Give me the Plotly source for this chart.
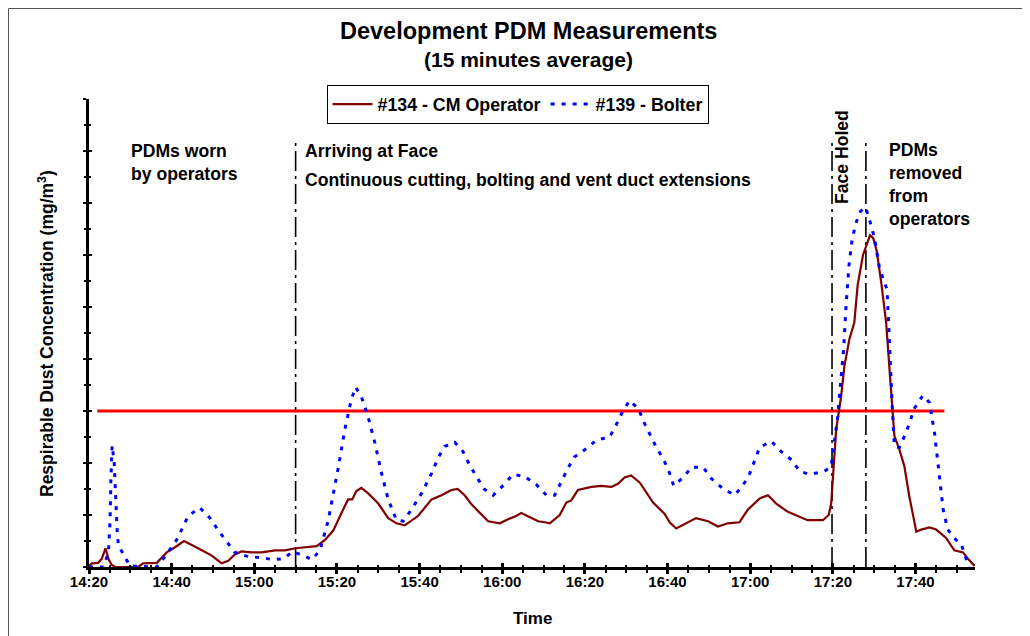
import numpy as np
import pandas as pd
import plotly.graph_objects as go

# ---------------- data (minutes after 14:20, mg/m3) ----------------
cm_minutes = [0, 0.7, 2.2, 3.1, 4.0, 4.8, 5.5, 6.4, 11.9, 13.1, 16.4, 18.8, 20.8, 23.0, 26.4,
              29.7, 32.1, 33.7, 35.3, 36.9, 39.3, 41.8, 45.0, 47.4, 50.0, 52.2, 55.1, 57.1,
              59.1, 61.1, 62.7, 63.7, 64.7, 65.9, 67.5, 70.0, 72.4, 74.4, 76.4, 79.6, 82.9,
              85.3, 87.7, 89.2, 90.9, 92.6, 94.6, 96.6, 99.4, 101.4, 103.4, 104.6, 106.6,
              108.7, 110.3, 111.5, 113.9, 115.5, 116.7, 118.3, 121.6, 124.0, 126.4, 128.0,
              129.6, 131.2, 133.3, 134.9, 136.5, 139.3, 140.5, 142.1, 144.1, 146.9, 149.8,
              152.2, 154.6, 157.4, 159.4, 162.3, 164.3, 166.3, 169.1, 172.7, 173.9, 177.6,
              179.0, 179.6, 180.8, 182.0, 182.8, 184.0, 185.2, 186.0, 187.3, 188.1, 189.0,
              189.8, 190.6, 191.7, 192.9, 193.9, 194.9, 196.1, 197.3, 198.5, 200.2, 201.4,
              203.4, 205.0, 207.4, 209.4, 211.5, 212.7, 214.3]
cm_values = [0.01, 0.035, 0.04, 0.08, 0.18, 0.07, 0.02, 0.0, 0.0, 0.035, 0.04, 0.14, 0.19, 0.25, 0.18,
             0.11, 0.035, 0.06, 0.12, 0.15, 0.14, 0.14, 0.16, 0.16, 0.18, 0.19, 0.20, 0.26,
             0.35, 0.52, 0.65, 0.65, 0.73, 0.76, 0.71, 0.61, 0.47, 0.42, 0.40, 0.49, 0.65,
             0.69, 0.74, 0.75, 0.69, 0.60, 0.52, 0.44, 0.42, 0.46, 0.49, 0.52, 0.48,
             0.44, 0.43, 0.42, 0.50, 0.62, 0.64, 0.74, 0.77, 0.78, 0.77, 0.80,
             0.86, 0.88, 0.81, 0.71, 0.62, 0.51, 0.43, 0.37, 0.41, 0.47, 0.44,
             0.39, 0.42, 0.43, 0.55, 0.66, 0.69, 0.61, 0.53, 0.47, 0.45, 0.45,
             0.50, 0.61, 1.32, 1.64, 1.93, 2.19, 2.35, 2.71, 3.00, 3.09, 3.19,
             3.16, 3.04, 2.74, 2.35, 1.80, 1.26, 1.13, 0.97, 0.68, 0.34, 0.36,
             0.38, 0.36, 0.28, 0.16, 0.14, 0.08, 0.01]

bolter_minutes = [0, 3.5, 4.7, 5.1, 5.3, 5.6, 6.1, 6.4, 6.8, 7.1, 8.3, 9.9, 16.4, 18.4, 21.2,
                  24.0, 26.8, 29.3, 31.3, 33.3, 35.3, 38.5, 41.8, 44.6, 47.0, 49.4, 50.4, 52.0,
                  53.9, 55.9, 57.9, 60.3, 61.9, 63.4, 64.5, 65.9, 67.5, 69.2, 70.8, 72.4, 74.4,
                  76.0, 78.0, 80.5, 82.9, 84.5, 86.1, 88.5, 90.5, 92.1, 93.7, 95.6, 97.8, 100.4,
                  102.6, 105.4, 108.3, 110.7, 112.7, 114.3, 115.9, 117.5, 120.4, 122.8, 126.0,
                  127.6, 129.2, 130.8, 133.0, 134.3, 135.9, 137.3, 139.1, 140.5, 141.5, 144.0,
                  145.8, 148.6, 150.6, 153.2, 156.2, 158.2, 159.9, 161.2, 162.3, 165.1, 167.5,
                  170.0, 172.0, 174.4, 178.0, 179.6, 180.4, 181.2, 181.8, 182.6, 183.2, 183.9,
                  184.7, 185.7, 186.7, 187.9, 189.0, 190.1, 191.3, 193.1, 193.5, 193.9, 194.4,
                  194.9, 196.1, 197.7, 199.8, 201.8, 203.4, 204.6, 205.7, 206.7, 207.8, 209.8,
                  211.0, 212.2, 212.9]
bolter_values = [0.0, 0.0, 0.14, 0.45, 0.84, 1.17, 1.00, 0.68, 0.36, 0.21, 0.12, 0.01, 0.0, 0.10, 0.26,
                 0.49, 0.57, 0.47, 0.35, 0.24, 0.14, 0.10, 0.09, 0.07, 0.08, 0.15, 0.13, 0.11,
                 0.07, 0.16, 0.45, 0.95, 1.32, 1.60, 1.73, 1.64, 1.45, 1.19, 0.90, 0.65, 0.45,
                 0.44, 0.55, 0.71, 0.90, 1.05, 1.16, 1.20, 1.11, 0.98, 0.87, 0.75, 0.69, 0.79,
                 0.89, 0.87, 0.79, 0.69, 0.69, 0.82, 0.95, 1.06, 1.14, 1.22, 1.25,
                 1.37, 1.50, 1.60, 1.52, 1.39, 1.26, 1.15, 1.03, 0.90, 0.78, 0.87,
                 0.96, 0.96, 0.85, 0.76, 0.69, 0.78, 0.90, 1.03, 1.15, 1.21, 1.11,
                 1.03, 0.92, 0.89, 0.92, 0.97, 1.19, 1.45, 1.74, 2.09, 2.51, 2.90,
                 3.16, 3.32, 3.42, 3.46, 3.32, 3.16, 2.87, 2.67, 2.35, 1.93, 1.52,
                 1.16, 1.15, 1.29, 1.53, 1.65, 1.58, 1.29, 0.90, 0.55, 0.36, 0.26,
                 0.23, 0.07, 0.0]

series_names = ["#134 - CM Operator", "#139 - Bolter"]
event_minutes = [50.0, 179.8, 188.0]          # 15:10, ~17:20, 17:28
limit_value = 1.5
limit_start_min, limit_end_min = 2.0, 207.0
x_end_min = 214.4

# ---------------- helpers ----------------
BASE = pd.Timestamp("2024-01-01 14:20:00")


def at(m):
    return BASE + pd.to_timedelta(np.asarray(m, dtype=float), unit="min")


def t1(m):
    return BASE + pd.Timedelta(minutes=float(m))


OFF = 8                      # default body margin of the html page
W, H = 1030 - OFF, 636 - OFF
# plot area in screen pixels: left 89, right 975, top 99, bottom 567
L, R, T, B = 89 - OFF, W - (975 - OFF), 99 - OFF, H - (567 - OFF)
PW, PH = W - L - R, H - T - B


def px(x):          # screen x -> paper
    return (x - OFF - L) / PW


def py(y):          # screen y -> paper
    return (H - B - (y - OFF)) / PH


FONT = "Liberation Sans, Arial, sans-serif"

fig = go.Figure()
fig.add_trace(go.Scatter(x=at(cm_minutes), y=cm_values, mode="lines", name=series_names[0],
                         line=dict(color="#800000", width=2.2)))
fig.add_trace(go.Scatter(x=at(bolter_minutes), y=bolter_values, mode="lines", name=series_names[1],
                         line=dict(color="#0000FF", width=3, dash="4px,7px")))
# dummy trace so the overlay axes (inside ticks) are drawn
fig.add_trace(go.Scatter(x=[t1(0)], y=[None], xaxis="x2", yaxis="y2", showlegend=False,
                         hoverinfo="skip", mode="lines"))

xr = [t1(0), t1(x_end_min)]
common_x = dict(type="date", range=xr, tick0=t1(0), dtick=20 * 60 * 1000,
                showgrid=False, zeroline=False, tickcolor="black")
fig.update_layout(
    width=W, height=H, autosize=False,
    margin=dict(l=L, r=R, t=T, b=B, pad=0),
    paper_bgcolor="white", plot_bgcolor="white",
    font=dict(family=FONT, color="black"),
    xaxis=dict(**common_x, tickformat="%H:%M", ticks="outside", ticklen=4, tickwidth=2.6,
               showline=True, linewidth=3, linecolor="black", ticklabelstandoff=-5,
               tickfont=dict(family=FONT, size=15, color="black", weight="bold"),
               minor=dict(dtick=5 * 60 * 1000, tick0=t1(0), ticks="outside", ticklen=2.5,
                          tickwidth=2, tickcolor="black", showgrid=False)),
    xaxis2=dict(**common_x, overlaying="x", anchor="y2", side="bottom", ticks="inside",
                ticklen=4, tickwidth=2.6, showline=False, showticklabels=False,
                minor=dict(dtick=5 * 60 * 1000, tick0=t1(0), ticks="inside", ticklen=2.5,
                           tickwidth=2, tickcolor="black", showgrid=False)),
    yaxis=dict(range=[0, 4.5], dtick=0.5, tick0=0, ticks="outside", ticklen=3, tickwidth=2.4,
               tickcolor="black", showline=True, linewidth=3, linecolor="black",
               showticklabels=False, showgrid=False, zeroline=False,
               minor=dict(dtick=0.25, ticks="outside", ticklen=2, tickwidth=2,
                          tickcolor="black", showgrid=False)),
    yaxis2=dict(range=[0, 4.5], dtick=0.5, tick0=0, overlaying="y", anchor="x2", side="left",
                ticks="inside", ticklen=3, tickwidth=2.4, tickcolor="black",
                showline=False, showticklabels=False, showgrid=False, zeroline=False,
                minor=dict(dtick=0.25, ticks="inside", ticklen=2, tickwidth=2,
                           tickcolor="black", showgrid=False)),
    showlegend=True,
    legend=dict(orientation="h", x=px(517.5), xanchor="center", y=py(85), yanchor="top",
                bordercolor="black", borderwidth=1, bgcolor="white",
                font=dict(family=FONT, size=17.8, color="black", weight="bold"),
                itemwidth=40, tracegroupgap=0),
)

shapes = []
shapes.append(dict(type="line", xref="x", yref="y", layer="below",
                   x0=t1(limit_start_min), x1=t1(limit_end_min), y0=limit_value, y1=limit_value,
                   line=dict(color="#FF0000", width=3.2)))
for m in event_minutes:
    shapes.append(dict(type="line", xref="x", yref="y", layer="below",
                       x0=t1(m), x1=t1(m), y0=0, y1=4.125,
                       line=dict(color="black", width=1.6, dash="20px,5px,3px,5px")))
# outer chart border (left and top)
shapes.append(dict(type="line", xref="paper", yref="paper", x0=px(8.5), x1=px(8.5),
                   y0=py(8.5), y1=py(700), line=dict(color="#555555", width=1)))
shapes.append(dict(type="line", xref="paper", yref="paper", x0=px(8.5), x1=px(1100),
                   y0=py(8.5), y1=py(8.5), line=dict(color="#555555", width=1)))
fig.update_layout(shapes=shapes)


def ann(text, x, y, size=17.6, xanchor="left", yanchor="middle", angle=0):
    return dict(text=text, xref="paper", yref="paper", x=px(x), y=py(y), showarrow=False,
                xanchor=xanchor, yanchor=yanchor, textangle=angle, align="left",
                font=dict(family=FONT, size=size, color="black", weight="bold"))


annotations = [
    ann("Development PDM Measurements", 528, 31, size=23.5, xanchor="center"),
    ann("(15 minutes average)", 528, 59, size=21, xanchor="center"),
    ann("PDMs worn<br>by operators", 129, 139, yanchor="top"),
    ann("Arriving at Face", 303, 151),
    ann("Continuous cutting, bolting and vent duct extensions", 303, 180),
    ann("Face Holed", 842, 157, xanchor="center", angle=-90),
    ann("PDMs<br>removed<br>from<br>operators", 887, 138, yanchor="top"),
    ann("Time", 532, 618, size=17, xanchor="center"),
    ann("Respirable Dust Concentration (mg/m<sup>3</sup>)", 46, 334, size=17.5,
        xanchor="center", angle=-90),
]
fig.update_layout(annotations=annotations)

fig.write_html("out.html")
